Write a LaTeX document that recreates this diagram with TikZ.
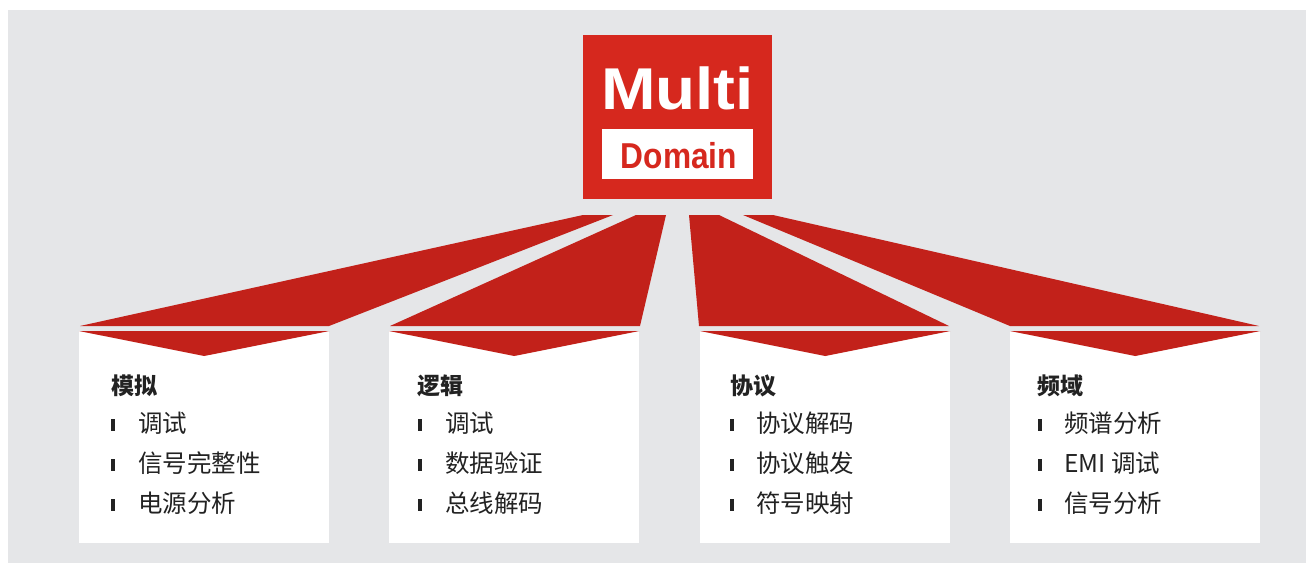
\documentclass[tikz,border=0pt]{standalone}
\usepackage{graphicx}
\usepackage{fontspec}
\setmainfont{Liberation Sans}
\newfontfamily\cjk{Noto Sans CJK SC}
\definecolor{bg}{RGB}{229,230,232}
\definecolor{boxred}{RGB}{214,40,30}
\definecolor{fanred}{RGB}{194,33,26}
\definecolor{txt}{RGB}{34,34,34}
\tikzset{
  card/.style={fill=white, draw=none, minimum width=250pt, minimum height=212pt, inner sep=0pt, anchor=north west},
  fan/.style={fill=fanred, draw=none},
  ctitle/.style={anchor=west, inner sep=0pt, text=txt, font=\cjk\bfseries\fontsize{23}{23}\selectfont},
  citem/.style={anchor=west, inner sep=0pt, text=txt, font=\cjk\fontsize{24.5}{24.5}\selectfont},
  bul/.style={fill=txt, draw=none, minimum width=4.5pt, minimum height=12pt, inner sep=0pt}
}
\begin{document}
\begin{tikzpicture}[x=1pt,y=-1pt]
\useasboundingbox (0,0) rectangle (1306,563);
\fill[bg] (8,10) rectangle (1306,563);
% central box
\node[fill=boxred, draw=none, minimum width=189pt, minimum height=164pt, inner sep=0pt, anchor=north west] (mbox) at (583,35) {};
\node[fill=white, draw=none, minimum width=151pt, minimum height=50pt, inner sep=0pt] (dbox) at (677.5,153.7) {};
\node[anchor=base, inner sep=0pt, text=white, font=\bfseries\fontsize{59}{59}\selectfont] (multi) at (677.5,109) {\scalebox{1.11}[1]{Multi}};
\node[anchor=base, inner sep=0pt, text=boxred, font=\bfseries\fontsize{36}{36}\selectfont] (domain) at (679,168.7) {\scalebox{0.88}[1]{Domain}};
% fans
\fill[fan] (583,215) -- (613,215) -- (329,326) -- (80,326) -- cycle;
\fill[fan] (636,215) -- (666,215) -- (640,326) -- (390,326) -- cycle;
\fill[fan] (689,215) -- (719,215) -- (949,326) -- (699,326) -- cycle;
\fill[fan] (743,215) -- (773,215) -- (1259,326) -- (1010,326) -- cycle;
% cards
\node[card] (c1) at (79,331) {};
\node[card] (c2) at (389,331) {};
\node[card] (c3) at (700,331) {};
\node[card] (c4) at (1010,331) {};
\fill[fan] (c1.north west) -- (c1.north east) -- ([yshift=-25pt]c1.north) -- cycle;
\fill[fan] (c2.north west) -- (c2.north east) -- ([yshift=-25pt]c2.north) -- cycle;
\fill[fan] (c3.north west) -- (c3.north east) -- ([yshift=-25pt]c3.north) -- cycle;
\fill[fan] (c4.north west) -- (c4.north east) -- ([yshift=-25pt]c4.north) -- cycle;
% card 1
\node[ctitle] (t1) at (111,386) {模拟};
\node[bul] (b11) at (113,425) {};
\node[bul] (b12) at (113,465) {};
\node[bul] (b13) at (113,505) {};
\node[citem] (i11) at (138,423) {调试};
\node[citem] (i12) at (138,463) {信号完整性};
\node[citem] (i13) at (138,503) {电源分析};
% card 2
\node[ctitle] (t2) at (417,386) {逻辑};
\node[bul] (b21) at (420,425) {};
\node[bul] (b22) at (420,465) {};
\node[bul] (b23) at (420,505) {};
\node[citem] (i21) at (445,423) {调试};
\node[citem] (i22) at (445,463) {数据验证};
\node[citem] (i23) at (445,503) {总线解码};
% card 3
\node[ctitle] (t3) at (730,386) {协议};
\node[bul] (b31) at (732,425) {};
\node[bul] (b32) at (732,465) {};
\node[bul] (b33) at (732,505) {};
\node[citem] (i31) at (756,423) {协议解码};
\node[citem] (i32) at (756,463) {协议触发};
\node[citem] (i33) at (756,503) {符号映射};
% card 4
\node[ctitle] (t4) at (1037,386) {频域};
\node[bul] (b41) at (1040,425) {};
\node[bul] (b42) at (1040,465) {};
\node[bul] (b43) at (1040,505) {};
\node[citem] (i41) at (1064,423) {频谱分析};
\node[citem] (i42) at (1064,463) {EMI 调试};
\node[citem] (i43) at (1064,503) {信号分析};
\end{tikzpicture}
\end{document}
